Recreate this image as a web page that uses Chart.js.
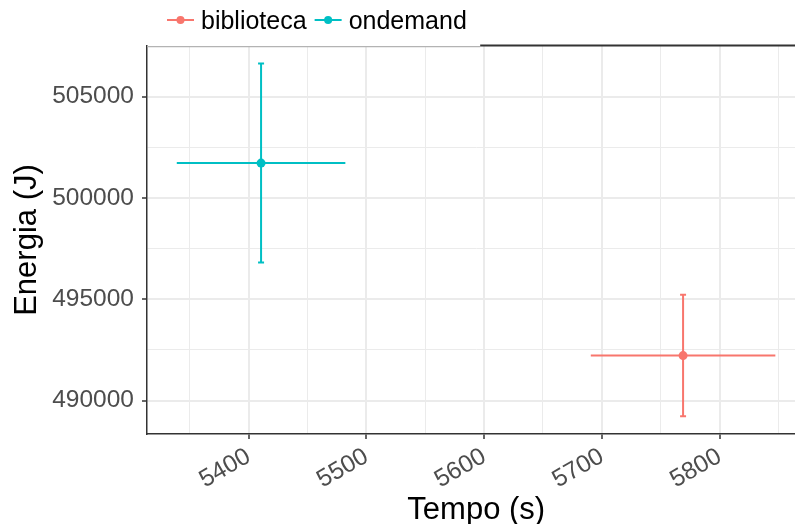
<!DOCTYPE html>
<html>
<head>
<meta charset="utf-8">
<script src="https://cdn.jsdelivr.net/npm/chart.js@4"></script>
<style>
  html, body { margin: 0; padding: 0; background: #fff; overflow: hidden; }
  #wrap { width: 810px; height: 524px; }
</style>
</head>
<body>
<div id="wrap"><canvas id="grafico" width="810" height="524"></canvas></div>
<script>
// dados
const series = ['biblioteca', 'ondemand'];
const tempo = [5769, 5410.5];
const tempoErr = [78.4, 71.6];
const energia = [492220, 501720];
const energiaErr = [3000, 4911];
const cores = ['#F8766D', '#00BFC4'];

const xTicks = [5400, 5500, 5600, 5700, 5800];
const xMinor = [5350, 5450, 5550, 5650, 5750, 5850];
const yTicks = [490000, 495000, 500000, 505000];
const yMinor = [492500, 497500, 502500];

const xMin = 5313.6, xMax = 5873;
const yMin = 488350, yMax = 507500;

const fonte = '"Liberation Sans", Arial, Helvetica, sans-serif';

function isMajor(axis, v) {
    return (axis === 'x' ? xTicks : yTicks).includes(v);
}

// barras de erro (horizontal e vertical)
const barrasErro = {
    id: 'barrasErro',
    beforeDatasetsDraw(chart) {
        const ctx = chart.ctx;
        const xs = chart.scales.x, ys = chart.scales.y;
        ctx.save();
        ctx.lineWidth = 2;
        for (let i = 0; i < series.length; i++) {
            ctx.strokeStyle = cores[i];
            const cx = xs.getPixelForValue(tempo[i]);
            const cy = ys.getPixelForValue(energia[i]);
            const x0 = xs.getPixelForValue(tempo[i] - tempoErr[i]);
            const x1 = xs.getPixelForValue(tempo[i] + tempoErr[i]);
            const y0 = ys.getPixelForValue(energia[i] - energiaErr[i]);
            const y1 = ys.getPixelForValue(energia[i] + energiaErr[i]);
            ctx.beginPath();
            ctx.moveTo(x0, cy); ctx.lineTo(x1, cy);
            ctx.moveTo(cx, y0); ctx.lineTo(cx, y1);
            ctx.moveTo(cx - 3, y0); ctx.lineTo(cx + 3, y0);
            ctx.moveTo(cx - 3, y1); ctx.lineTo(cx + 3, y1);
            ctx.stroke();
        }
        ctx.restore();
    }
};

// legenda estilo ggplot + borda superior
const legendaTopo = {
    id: 'legendaTopo',
    afterDraw(chart) {
        const ctx = chart.ctx;
        const area = chart.chartArea;
        ctx.save();
        // borda superior
        const meio = area.left + (area.right - area.left) * 0.506;
        ctx.strokeStyle = '#B3B3B3';
        ctx.lineWidth = 1.2;
        ctx.beginPath();
        ctx.moveTo(area.left, area.top + 0.6);
        ctx.lineTo(meio, area.top + 0.6);
        ctx.stroke();
        ctx.strokeStyle = '#333333';
        ctx.lineWidth = 2;
        ctx.beginPath();
        ctx.moveTo(meio, area.top - 0.5);
        ctx.lineTo(area.right, area.top - 0.5);
        ctx.stroke();

        // legenda
        ctx.font = '25px ' + fonte;
        ctx.textBaseline = 'middle';
        ctx.textAlign = 'left';
        let x = 167;
        const y = 20;
        for (let i = 0; i < series.length; i++) {
            ctx.strokeStyle = cores[i];
            ctx.fillStyle = cores[i];
            ctx.lineWidth = 2;
            ctx.beginPath();
            ctx.moveTo(x, y); ctx.lineTo(x + 27, y);
            ctx.stroke();
            ctx.beginPath();
            ctx.arc(x + 13.5, y, 4, 0, Math.PI * 2);
            ctx.fill();
            ctx.fillStyle = '#000';
            ctx.fillText(series[i], x + 34, y + 2);
            x += 34 + ctx.measureText(series[i]).width + 8;
        }
        ctx.restore();
    }
};

const ctx = document.getElementById('grafico').getContext('2d');

new Chart(ctx, {
    type: 'scatter',
    data: {
        datasets: series.map((nome, i) => ({
            label: nome,
            data: [{ x: tempo[i], y: energia[i] }],
            backgroundColor: cores[i],
            borderColor: cores[i],
            borderWidth: 0,
            pointRadius: 4.5,
            pointHoverRadius: 4.5
        }))
    },
    plugins: [barrasErro, legendaTopo],
    options: {
        responsive: false,
        animation: false,
        devicePixelRatio: 1,
        layout: { padding: { top: 46, right: 3, left: 0, bottom: 0 } },
        plugins: {
            legend: { display: false },
            tooltip: { enabled: false }
        },
        scales: {
            x: {
                type: 'linear',
                min: xMin,
                max: xMax,
                afterBuildTicks: (scale) => {
                    scale.ticks = [...xMinor, ...xTicks].sort((a, b) => a - b).map(v => ({ value: v }));
                },
                afterFit: (scale) => { scale.height = 90; },
                ticks: {
                    autoSkip: false,
                    minRotation: 30,
                    maxRotation: 30,
                    padding: 3,
                    color: '#4D4D4D',
                    font: { family: fonte, size: 24.5 },
                    callback: (v) => isMajor('x', v) ? String(v) : ''
                },
                grid: {
                    color: '#EBEBEB',
                    lineWidth: (c) => c.tick && isMajor('x', c.tick.value) ? 2 : 1,
                    tickColor: (c) => c.tick && isMajor('x', c.tick.value) ? '#333333' : 'rgba(0,0,0,0)',
                    tickLength: 5,
                    tickWidth: 1.5
                },
                border: { color: '#333333', width: 1.5 },
                title: {
                    display: true,
                    text: 'Tempo (s)',
                    color: '#000',
                    font: { family: fonte, size: 31, lineHeight: 0.85 },
                    padding: 0
                }
            },
            y: {
                type: 'linear',
                min: yMin,
                max: yMax,
                afterBuildTicks: (scale) => {
                    scale.ticks = [...yMinor, ...yTicks].sort((a, b) => a - b).map(v => ({ value: v }));
                },
                afterFit: (scale) => { scale.width = 147; },
                ticks: {
                    autoSkip: false,
                    padding: 8,
                    color: '#4D4D4D',
                    font: { family: fonte, size: 24.5 },
                    callback: (v) => isMajor('y', v) ? String(v) : ''
                },
                grid: {
                    color: '#EBEBEB',
                    lineWidth: (c) => c.tick && isMajor('y', c.tick.value) ? 2 : 1,
                    tickColor: (c) => c.tick && isMajor('y', c.tick.value) ? '#333333' : 'rgba(0,0,0,0)',
                    tickLength: 5,
                    tickWidth: 1.5
                },
                border: { color: '#333333', width: 1.5 },
                title: {
                    display: true,
                    text: 'Energia (J)',
                    color: '#000',
                    font: { family: fonte, size: 31, lineHeight: 0.9 },
                    padding: { top: 13.5, bottom: 0 }
                }
            }
        }
    }
});
</script>
</body>
</html>
